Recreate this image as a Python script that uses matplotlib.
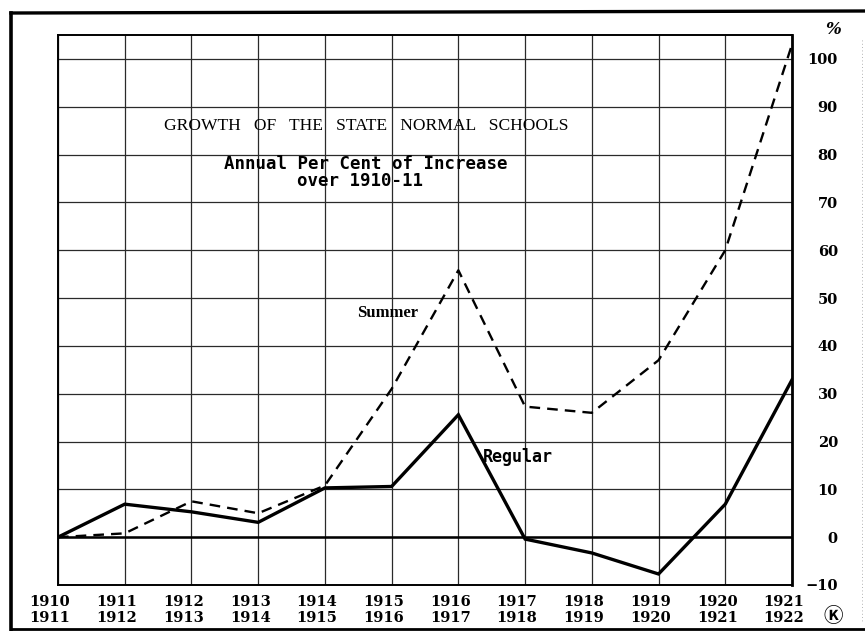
# Growth of the State Normal Schools - annual per cent of increase over 1910-11

import matplotlib
matplotlib.use('Agg')
import matplotlib.pyplot as plt
import matplotlib.transforms as mtransforms
from matplotlib.lines import Line2D

years = ['1910\n1911', '1911\n1912', '1912\n1913', '1913\n1914', '1914\n1915',
         '1915\n1916', '1916\n1917', '1917\n1918', '1918\n1919', '1919\n1920',
         '1920\n1921', '1921\n1922']
regular = [0, 6.9, 5.3, 3.1, 10.3, 10.6, 25.6, -0.4, -3.3, -7.7, 6.9, 32.9]
summer = [0, 0.8, 7.5, 5.0, 10.8, 31, 55.8, 27.3, 26.0, 37.0, 60.0, 103.0]
y_ticks = list(range(-10, 101, 10))

fig = plt.figure(figsize=(8.65, 6.31), dpi=100)
ax = fig.add_axes([58 / 865, 46 / 631, 734 / 865, 550 / 631])

x = list(range(len(years)))
ax.plot(x, summer, color='black', lw=1.7, ls=(0, (4.5, 3)), zorder=3)
ax.plot(x, regular, color='black', lw=2.4, solid_joinstyle='miter', zorder=4)
ax.axhline(0, color='black', lw=1.8, zorder=2)

ax.set_xlim(0, len(years) - 1)
ax.set_ylim(-10, 105)
ax.set_xticks(x)
ax.set_xticklabels([])
ax.set_yticks(y_ticks)
ax.grid(True, color='#2a2a2a', lw=0.9, zorder=1)
ax.tick_params(axis='both', length=0)
ax.yaxis.tick_right()
ax.tick_params(axis='y', pad=33)
for lab in ax.get_yticklabels():
    lab.set_ha('right')
    lab.set_fontfamily('DejaVu Serif')
    lab.set_fontweight('bold')
    lab.set_fontsize(10.5)
for side in ['left', 'bottom', 'top']:
    ax.spines[side].set_linewidth(1.4)
ax.spines['right'].set_linewidth(2.0)

# two-line year labels under the grid, a little left of each line
shift = mtransforms.ScaledTranslation(-8 / 100, 0, fig.dpi_scale_trans)
trans = mtransforms.blended_transform_factory(ax.transData, ax.transAxes) + shift
for i, lab in enumerate(years):
    ax.text(i, -0.018, lab, transform=trans, ha='center', va='top',
            fontfamily='DejaVu Serif', fontweight='bold', fontsize=10.5,
            linespacing=1.2)

ax.text(4.62, 86, 'GROWTH   OF   THE   STATE   NORMAL   SCHOOLS', ha='center',
        va='center', fontfamily='Liberation Serif', fontsize=12.6)
ax.text(4.61, 78, 'Annual Per Cent of Increase', ha='center', va='center',
        fontfamily='DejaVu Sans Mono', fontweight='bold', fontsize=12.5)
ax.text(4.52, 74.4, 'over 1910-11', ha='center', va='center',
        fontfamily='DejaVu Sans Mono', fontweight='bold', fontsize=12.5)
ax.text(4.48, 46.9, 'Summer', ha='left', va='center',
        fontfamily='Liberation Serif', fontweight='bold', fontsize=12)
ax.text(6.37, 16.7, 'Regular', ha='left', va='center',
        fontfamily='DejaVu Sans Mono', fontweight='bold', fontsize=12)

fig.text(833 / 865, 1 - 30 / 631, '%', ha='center', va='center',
         fontfamily='DejaVu Serif', fontweight='bold', fontsize=12, style='italic')
fig.text(833 / 865, 1 - 617 / 631, '\u24c0', ha='center', va='center',
         family=['Noto Sans CJK JP', 'DejaVu Sans'], fontweight='bold', fontsize=14)

# outer frame of the page
fig.add_artist(Line2D([11 / 865, 11 / 865], [1 - 13 / 631, 1 / 631], color='black', lw=2.6))
fig.add_artist(Line2D([11 / 865, 1], [1 - 13 / 631, 1 - 11 / 631], color='black', lw=2.4))
fig.add_artist(Line2D([11 / 865, 1], [2 / 631, 2 / 631], color='black', lw=2.0))
fig.add_artist(Line2D([862 / 865, 862 / 865], [1 - 40 / 631, 10 / 631], color='#999999',
                      lw=0.6, ls=(0, (1, 3))))

fig.savefig('out.png', dpi=100, facecolor='white')
